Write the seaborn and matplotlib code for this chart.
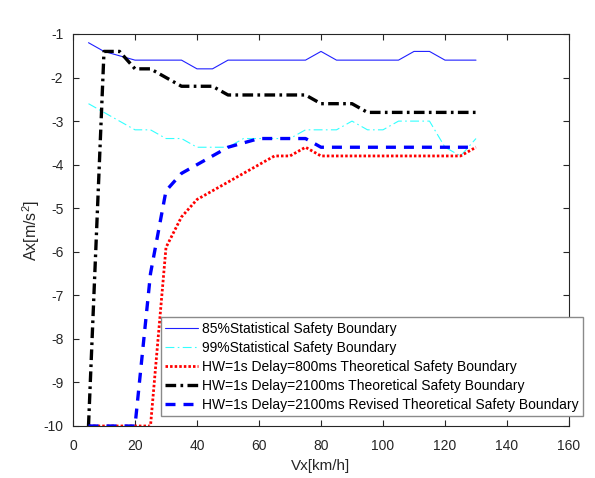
import numpy as np
import pandas as pd
import matplotlib
matplotlib.use("Agg")
import matplotlib.pyplot as plt
import seaborn as sns

# Vehicle speed samples (km/h)
speed = [5, 10, 15, 20, 25, 30, 35, 40, 45, 50, 55, 60, 65,
         70, 75, 80, 85, 90, 95, 100, 105, 110, 115, 120, 125, 130]

# Statistical boundaries (m/s^2)
stat85 = [-1.2, -1.4, -1.5, -1.6, -1.6, -1.6, -1.6, -1.8, -1.8, -1.6, -1.6, -1.6, -1.6,
          -1.6, -1.6, -1.4, -1.6, -1.6, -1.6, -1.6, -1.6, -1.4, -1.4, -1.6, -1.6, -1.6]
stat99 = [-2.6, -2.8, -3.0, -3.2, -3.2, -3.4, -3.4, -3.6, -3.6, -3.6, -3.4, -3.4, -3.4,
          -3.4, -3.2, -3.2, -3.2, -3.0, -3.2, -3.2, -3.0, -3.0, -3.0, -3.6, -3.8, -3.4]

# Theoretical boundaries (m/s^2)
theo800 = [-10, -10, -10, -10, -10, -5.9, -5.2, -4.8, -4.6, -4.4, -4.2, -4.0, -3.8,
           -3.8, -3.6, -3.8, -3.8, -3.8, -3.8, -3.8, -3.8, -3.8, -3.8, -3.8, -3.8, -3.6]
theo2100 = [-10, -1.4, -1.4, -1.8, -1.8, -2.0, -2.2, -2.2, -2.2, -2.4, -2.4, -2.4, -2.4,
            -2.4, -2.4, -2.6, -2.6, -2.6, -2.8, -2.8, -2.8, -2.8, -2.8, -2.8, -2.8, -2.8]
revised2100 = [-10, -10, -10, -10, -6.5, -4.6, -4.2, -4.0, -3.8, -3.6, -3.5, -3.4, -3.4,
               -3.4, -3.4, -3.6, -3.6, -3.6, -3.6, -3.6, -3.6, -3.6, -3.6, -3.6, -3.6, -3.6]

labels = [
    "85%Statistical Safety Boundary",
    "99%Statistical Safety Boundary",
    "HW=1s Delay=800ms Theoretical Safety Boundary",
    "HW=1s Delay=2100ms Theoretical Safety Boundary",
    "HW=1s Delay=2100ms Revised Theoretical Safety Boundary",
]

x_ticks = [0, 20, 40, 60, 80, 100, 120, 140, 160]
y_ticks = [-10, -9, -8, -7, -6, -5, -4, -3, -2, -1]

sns.set_theme(style="white")
plt.rcParams["font.family"] = ["Liberation Sans", "DejaVu Sans"]
plt.rcParams["mathtext.fontset"] = "custom"
plt.rcParams["mathtext.rm"] = "Liberation Sans"
plt.rcParams["mathtext.it"] = "Liberation Sans"

text_col = "#262626"

fig = plt.figure(figsize=(5.95, 4.78), dpi=100)
ax = fig.add_axes([73 / 595, 1 - 426 / 478, 496 / 595, 392 / 478])

styles = [
    dict(y=stat85, color="#2020ff", linewidth=0.8, linestyle="-"),
    dict(y=stat99, color="#33ffff", linewidth=0.8, linestyle=(0, (8, 3, 1.5, 3))),
    dict(y=theo800, color="#ff0000", linewidth=2.0, linestyle=(0, (0.9, 0.75))),
    dict(y=theo2100, color="#000000", linewidth=2.4, linestyle=(0, (3.2, 1.3, 0.8, 1.3))),
    dict(y=revised2100, color="#0000ff", linewidth=2.4, linestyle=(0, (3.0, 2.4))),
]

for st, lab in zip(styles, labels):
    sns.lineplot(x=speed, y=st["y"], ax=ax, color=st["color"],
                 linewidth=st["linewidth"], linestyle=st["linestyle"],
                 label=lab, estimator=None, sort=False)

ax.set_xlim(0, 160)
ax.set_ylim(-10, -1)
ax.set_xticks(x_ticks)
ax.set_yticks(y_ticks)
ax.set_xticklabels([str(t) for t in x_ticks])
ax.set_yticklabels([str(t) for t in y_ticks])

for sp in ax.spines.values():
    sp.set_visible(True)
    sp.set_color(text_col)
    sp.set_linewidth(0.8)

ax.tick_params(axis="both", which="major", direction="in", length=4, width=0.8,
               color=text_col, labelcolor=text_col, labelsize=10,
               top=True, right=True, bottom=True, left=True)
ax.tick_params(axis="x", pad=9)
ax.tick_params(axis="y", pad=7)

ax.set_xlabel("Vx[km/h]", fontsize=11, color=text_col, labelpad=5)
ax.set_ylabel("Ax[m/s$^2$]", fontsize=11.5, color=text_col, labelpad=1)

leg = ax.legend(loc="lower left", bbox_to_anchor=(0.177, 0.026), fontsize=10,
                frameon=True, fancybox=False, framealpha=1, edgecolor="#8a8a8a",
                handlelength=2.4, handletextpad=0.3, labelspacing=0.36,
                borderpad=0.3, borderaxespad=0)
leg.get_frame().set_linewidth(1.0)
for t in leg.get_texts():
    t.set_color("#000000")

fig.savefig("out.png", dpi=100, facecolor="white")
